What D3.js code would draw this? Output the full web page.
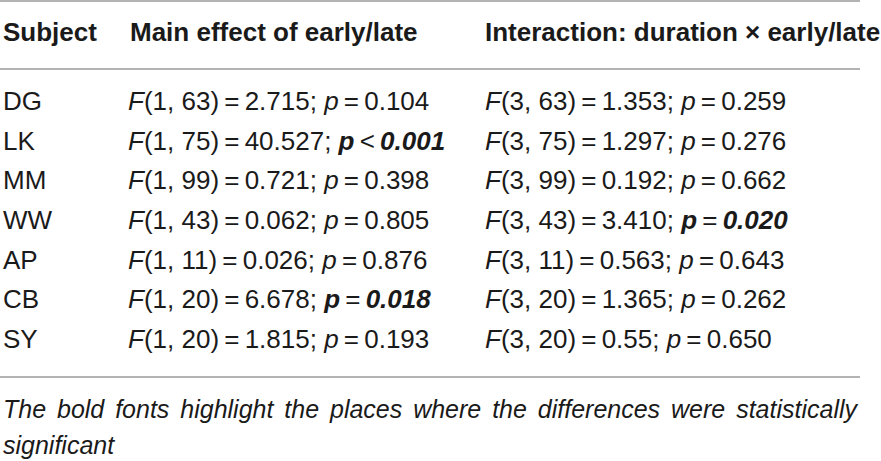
<!DOCTYPE html>
<html><head><meta charset="utf-8">
<script src="https://cdn.jsdelivr.net/npm/d3@7"></script>
<style>
html,body{margin:0;padding:0;background:#fff;}
svg{display:block;}
text{font-family:"Liberation Sans","Helvetica Neue",Arial,sans-serif;fill:#1a1a1a;}
</style></head>
<body>
<svg id="chart" width="881" height="461"></svg>
<script>
const headers = ["Subject", "Main effect of early/late", "Interaction: duration \u00d7 early/late"];
const subjects = ["DG", "LK", "MM", "WW", "AP", "CB", "SY"];
const mainDf1 = [1, 1, 1, 1, 1, 1, 1];
const mainDf2 = [63, 75, 99, 43, 11, 20, 20];
const mainF = ["2.715", "40.527", "0.721", "0.062", "0.026", "6.678", "1.815"];
const mainRel = ["=", "<", "=", "=", "=", "=", "="];
const mainP = ["0.104", "0.001", "0.398", "0.805", "0.876", "0.018", "0.193"];
const mainSig = [false, true, false, false, false, true, false];
const interDf1 = [3, 3, 3, 3, 3, 3, 3];
const interDf2 = [63, 75, 99, 43, 11, 20, 20];
const interF = ["1.353", "1.297", "0.192", "3.410", "0.563", "1.365", "0.55"];
const interRel = ["=", "=", "=", "=", "=", "=", "="];
const interP = ["0.259", "0.276", "0.662", "0.020", "0.643", "0.262", "0.650"];
const interSig = [false, false, false, true, false, false, false];
const captionLines = ["The bold fonts highlight the places where the differences were statistically", "significant"];

const svg = d3.select("#chart");
const FS = 26;
const colX = d3.scaleOrdinal().domain([0, 1, 2]).range([3, 128, 485]);
const rowY = d3.scalePoint().domain(subjects).range([110, 348]);
const lineX = d3.scaleLinear().domain([0, 1]).range([0, 860]);

// rules
const rules = [1, 69, 377];
svg.selectAll("line.rule").data(rules).join("line")
  .attr("class", "rule")
  .attr("x1", lineX(0)).attr("x2", lineX(1))
  .attr("y1", d => d).attr("y2", d => d)
  .attr("stroke", "#9a9a9a").attr("stroke-width", 1.6);

// headers
svg.selectAll("text.hdr").data(headers).join("text")
  .attr("class", "hdr")
  .attr("x", (d, i) => colX(i) + (i === 1 ? 2 : 0))
  .attr("y", 41)
  .attr("font-size", FS).attr("font-weight", "bold")
  .text(d => d);

// subject column
svg.selectAll("text.subj").data(subjects).join("text")
  .attr("class", "subj")
  .attr("x", colX(0)).attr("y", d => rowY(d))
  .attr("font-size", FS)
  .text(d => d);

function stat(col, df1, df2, F, rel, P, sig) {
  subjects.forEach((s, i) => {
    const t = svg.append("text").attr("x", colX(col)).attr("y", rowY(s)).attr("font-size", FS);
    t.append("tspan").attr("font-style", "italic").text("F");
    t.append("tspan").text(`(${df1[i]}, ${df2[i]})\u2009=\u2009${F[i]}; `);
    t.append("tspan").attr("font-style", "italic").attr("font-weight", sig[i] ? "bold" : "normal").text("p");
    t.append("tspan").text(`\u2009${rel[i]}\u2009`);
    t.append("tspan").attr("font-style", sig[i] ? "italic" : "normal").attr("font-weight", sig[i] ? "bold" : "normal").text(P[i]);
  });
}
stat(1, mainDf1, mainDf2, mainF, mainRel, mainP, mainSig);
stat(2, interDf1, interDf2, interF, interRel, interP, interSig);

// caption
const cap = svg.selectAll("text.cap").data(captionLines).join("text")
  .attr("class", "cap")
  .attr("x", 3).attr("y", (d, i) => 418 + i * 36)
  .attr("font-size", 25).attr("font-style", "italic")
  .text(d => d);
// justify first line
cap.filter((d, i) => i === 0).each(function() {
  const len = this.getComputedTextLength();
  const words = captionLines[0].split(" ").length - 1;
  const extra = (857 - 3 - len) / words;
  d3.select(this).attr("word-spacing", extra);
});
</script>
</body></html>
